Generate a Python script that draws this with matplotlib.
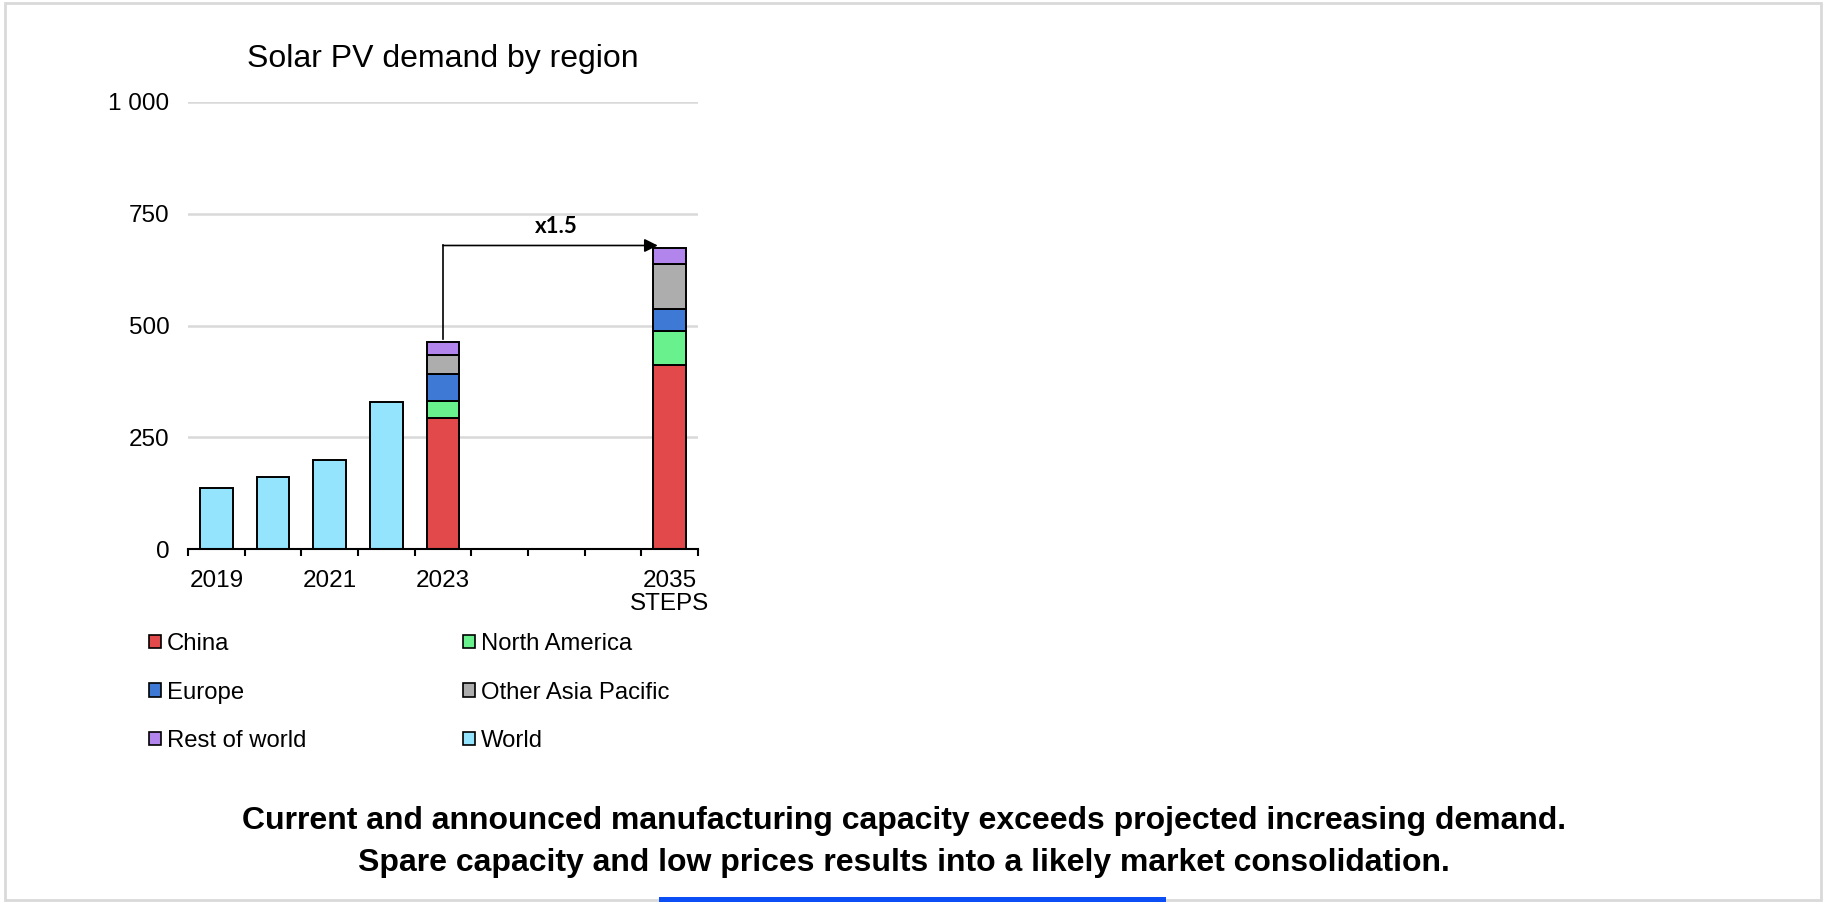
import matplotlib
matplotlib.use("Agg")
import matplotlib.pyplot as plt
from matplotlib.patches import Rectangle, Patch

plt.rcParams['font.family'] = ['Liberation Sans', 'DejaVu Sans']

categories = ['2019', '2020', '2021', '2022', '2023', '', '', '', '2035\nSTEPS']
shown_labels = ['2019', '', '2021', '', '2023', '', '', '', '2035\nSTEPS']

world = [137, 160, 199, 328, 0, 0, 0, 0, 0]
china = [0, 0, 0, 0, 292, 0, 0, 0, 412]
north_america = [0, 0, 0, 0, 40, 0, 0, 0, 76]
europe = [0, 0, 0, 0, 60, 0, 0, 0, 48]
other_asia_pacific = [0, 0, 0, 0, 42, 0, 0, 0, 102]
rest_of_world = [0, 0, 0, 0, 29, 0, 0, 0, 36]

series = [
    ('China', china, '#E2494A'),
    ('North America', north_america, '#69F18E'),
    ('Europe', europe, '#3F79D6'),
    ('Other Asia Pacific', other_asia_pacific, '#ADADAD'),
    ('Rest of world', rest_of_world, '#B185EC'),
]
world_color = '#93E4FC'

growth_label = 'x1.5'
title = 'Solar PV demand by region'
message = ('Current and announced manufacturing capacity exceeds projected increasing demand.\n'
           'Spare capacity and low prices results into a likely market consolidation.')

W, H = 1825, 902
fig = plt.figure(figsize=(W / 100, H / 100), dpi=100)
ax = fig.add_axes([188 / W, 1 - 549 / H, (698 - 188) / W, (549 - 102) / H])

x = list(range(len(categories)))
bw = 0.58
edge = dict(edgecolor='black', linewidth=1.4)

ax.bar(x, world, width=bw, color=world_color, zorder=3, **edge)
bottom = [0] * len(categories)
for name, vals, col in series:
    mask_x = [xi for xi, v in zip(x, vals) if v > 0]
    mask_v = [v for v in vals if v > 0]
    mask_b = [b for b, v in zip(bottom, vals) if v > 0]
    ax.bar(mask_x, mask_v, bottom=mask_b, width=bw, color=col, zorder=3, **edge)
    bottom = [b + v for b, v in zip(bottom, vals)]

ax.set_ylim(0, 1000)
ax.set_xlim(-0.5, len(categories) - 0.5)
ax.set_yticks([0, 250, 500, 750, 1000])
ax.set_yticklabels(['0', '250', '500', '750', '1 000'], fontsize=17.5)
ax.tick_params(axis='y', length=0, pad=13.5)
ax.yaxis.grid(True, color='#D9D9D9', linewidth=1.8, zorder=0)
ax.set_axisbelow(True)

# category boundaries carry the tick marks, labels sit on the categories
ax.set_xticks([i - 0.5 for i in range(len(categories) + 1)])
ax.set_xticklabels([])
ax.tick_params(axis='x', which='major', length=5, width=1.5, direction='out', color='black')
ax.set_xticks(x, minor=True)
ax.set_xticklabels(shown_labels, minor=True, fontsize=17.5, linespacing=1.05)
ax.tick_params(axis='x', which='minor', length=0, pad=15)

for s in ['left', 'right', 'top']:
    ax.spines[s].set_visible(False)
ax.spines['bottom'].set_linewidth(1.5)
ax.spines['bottom'].set_zorder(4)

ax.set_title(title, fontsize=23, pad=25)

# growth arrow from 2023 total to 2035 total
total_2023 = sum(v[4] for _, v, _ in series)
total_2035 = sum(v[8] for _, v, _ in series)
y_arrow = total_2035 + 5
ax.plot([4, 4], [total_2023 + 6, y_arrow], color='black', linewidth=1.2, zorder=5)
ax.annotate('', xy=(8 - bw / 2 + 0.08, y_arrow), xytext=(4, y_arrow),
            arrowprops=dict(arrowstyle='-|>', color='black', lw=1.2,
                            mutation_scale=20, shrinkA=0, shrinkB=0), zorder=5)
ax.text(6, y_arrow + 42, growth_label, ha='center', va='center', fontsize=16,
        fontweight='bold', family=['Lato', 'DejaVu Sans'])

handles = [Patch(facecolor=c, edgecolor='black', linewidth=1.2, label=n) for n, _, c in series]
handles.append(Patch(facecolor=world_color, edgecolor='black', linewidth=1.2, label='World'))
order = [0, 2, 4, 1, 3, 5]
leg = fig.legend([handles[i] for i in order], [handles[i].get_label() for i in order],
                 ncol=2, loc='upper left', bbox_to_anchor=(149 / W, 1 - 633 / H),
                 frameon=False, fontsize=17.2, handlelength=0.5, handleheight=0.5,
                 handletextpad=0.25, columnspacing=6.56, labelspacing=1.11,
                 borderpad=0, borderaxespad=0)

fig.text(904 / W, 1 - 842 / H, message, ha='center', va='center', fontsize=23,
         fontweight='bold', linespacing=1.55)

# outer frame and accent bar
fig.patches.append(Rectangle((5 / W, 1 - 900 / H), (1821 - 5) / W, (900 - 3) / H,
                             transform=fig.transFigure, fill=False,
                             edgecolor='#D9D9D9', linewidth=2))
fig.patches.append(Rectangle((659 / W, 0), (1166 - 659) / W, 5 / H,
                             transform=fig.transFigure, facecolor='#0B4EF6',
                             edgecolor='none'))

fig.savefig('out.png', dpi=100)
